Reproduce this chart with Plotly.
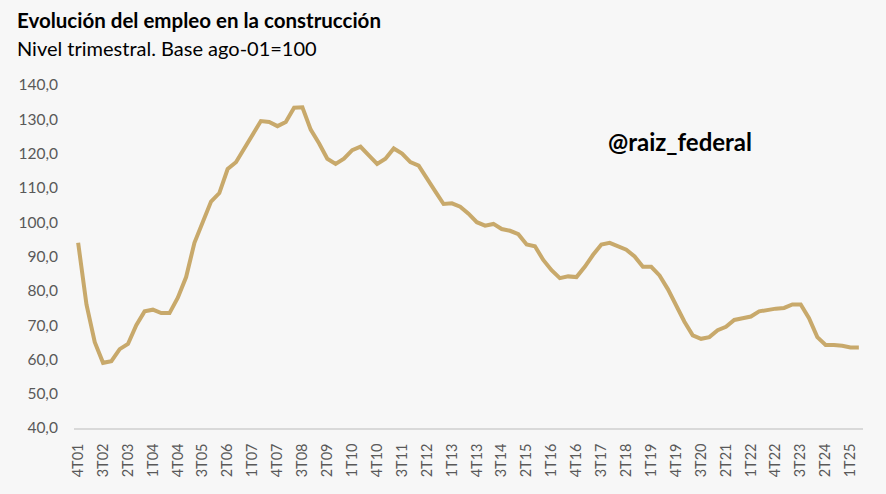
"""Evolución del empleo en la construcción - nivel trimestral, base ago-01=100."""

import plotly.graph_objects as go

# Quarters from 4T01 to 2T25
quarters = ["4T01"] + [f"{q}T{y:02d}" for y in range(2, 26) for q in range(1, 5)]
quarters = quarters[: quarters.index("2T25") + 1]

employment_index = [
    94.0, 76.0, 65.0, 59.0, 59.5, 63.0, 64.5, 70.0, 74.0, 74.5,   # 4T01-1T04
    73.5, 73.5, 78.0, 84.0, 94.0, 100.0, 106.0, 108.5, 115.5, 117.5,  # 2T04-3T06
    121.5, 125.5, 129.5, 129.2, 128.0, 129.2, 133.4, 133.5, 127.0, 123.0,  # 4T06-1T09
    118.5, 117.0, 118.5, 121.0, 122.0, 119.5, 117.0, 118.5, 121.5, 120.0,  # 2T09-3T11
    117.5, 116.5, 113.0, 109.0, 105.3, 105.5, 104.5, 102.5, 100.0, 99.0,  # 4T11-1T14
    99.5, 98.0, 97.5, 96.5, 93.5, 93.0, 89.0, 86.0, 83.7, 84.2,  # 2T14-3T16
    84.0, 87.0, 90.5, 93.5, 94.0, 93.0, 92.0, 90.0, 87.0, 87.0,  # 4T16-1T19
    84.5, 80.5, 75.5, 71.0, 67.0, 66.0, 66.5, 68.5, 69.5, 71.5,  # 2T19-3T21
    72.0, 72.5, 74.0, 74.5, 74.8, 75.0, 76.0, 76.0, 72.0, 66.5,  # 4T21-1T24
    64.2, 64.2, 64.0, 63.5, 63.5,  # 2T24-2T25
]

tick_labels = quarters[::3]

LINE_COLOR = "#C8A96B"
TEXT_COLOR = "#595959"
FONT = "Lato, 'Open Sans', sans-serif"

fig = go.Figure()
fig.add_trace(
    go.Scatter(
        x=quarters,
        y=employment_index,
        mode="lines",
        line=dict(color=LINE_COLOR, width=4),
        hovertemplate="%{x}: %{y:.1f}<extra></extra>",
    )
)

fig.update_layout(
    width=886,
    height=494,
    margin=dict(l=74, r=23, t=85, b=66),
    paper_bgcolor="#F7F7F7",
    plot_bgcolor="#F7F7F7",
    separators=",.",
    showlegend=False,
    font=dict(family=FONT, color=TEXT_COLOR),
    annotations=[
        dict(
            text="<b>Evolución del empleo en la construcción</b>",
            xref="paper", yref="paper", x=-0.0748, y=1.19,
            xanchor="left", yanchor="middle", showarrow=False,
            font=dict(family=FONT, size=20.5, color="#000000"),
        ),
        dict(
            text="Nivel trimestral. Base ago-01=100",
            xref="paper", yref="paper", x=-0.0748, y=1.108,
            xanchor="left", yanchor="middle", showarrow=False,
            font=dict(family=FONT, size=20, color="#000000"),
        ),
        dict(
            text="<b>@raiz_federal</b>",
            xref="paper", yref="paper", x=0.768, y=0.836,
            xanchor="center", yanchor="middle", showarrow=False,
            font=dict(family=FONT, size=24, color="#000000"),
        ),
    ],
)

fig.update_xaxes(
    type="category",
    range=[-0.5, len(quarters) - 0.5],
    tickmode="array",
    tickvals=tick_labels,
    ticktext=tick_labels,
    tickangle=-90,
    tickfont=dict(size=14.5, color=TEXT_COLOR),
    showgrid=False,
    showline=True,
    linecolor="#D9D9D9",
    linewidth=1.5,
    ticks="outside",
    ticklen=8,
    tickcolor="rgba(0,0,0,0)",
    zeroline=False,
)

fig.update_yaxes(
    range=[40, 140],
    tickvals=[40, 50, 60, 70, 80, 90, 100, 110, 120, 130, 140],
    tickformat=".1f",
    tickfont=dict(size=15.5, color=TEXT_COLOR),
    showgrid=False,
    showline=False,
    zeroline=False,
    ticks="outside",
    ticklen=12,
    tickcolor="rgba(0,0,0,0)",
)

# drop the default page margin so the figure fills the window
fig.write_html(
    "out.html",
    config={"displayModeBar": False},
    post_script="document.body.style.margin = '0';",
)
